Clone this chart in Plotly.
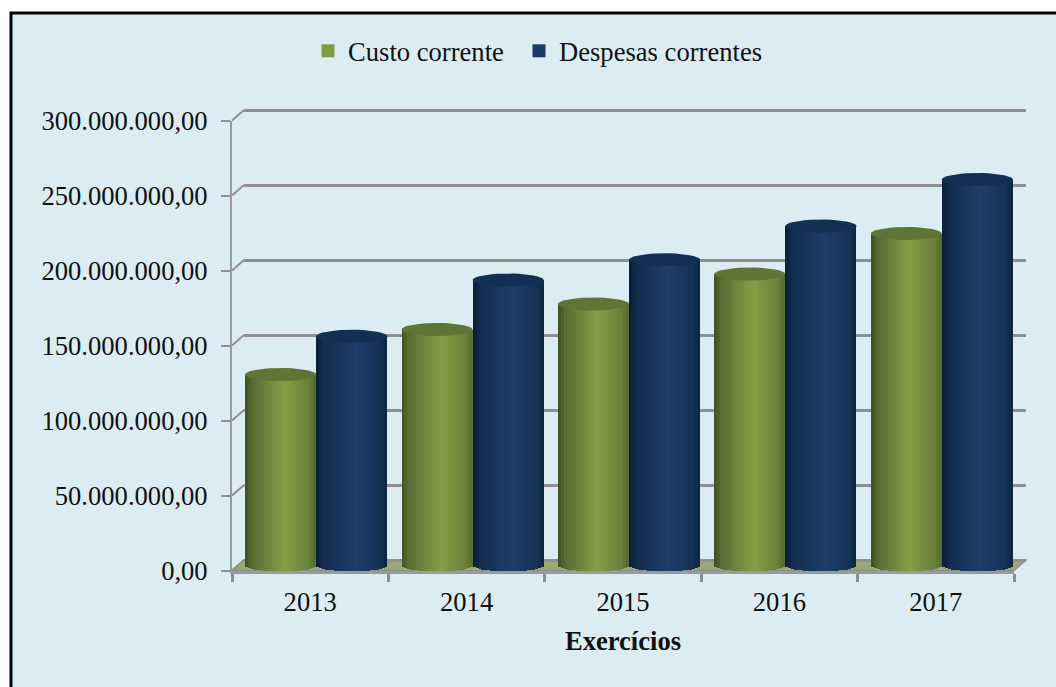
import math
import plotly.graph_objects as go

# ---- data ----
years = ["2013", "2014", "2015", "2016", "2017"]
custo_corrente = [127e6, 157e6, 174e6, 194e6, 221e6]
despesas_correntes = [152.5e6, 190e6, 203.5e6, 226e6, 257e6]
y_ticks = [0, 50e6, 100e6, 150e6, 200e6, 250e6, 300e6]

# ---- geometry (window pixels) ----
W, H = 1056, 687
AX_L, AX_R, AX_B, AX_T = 232, 1014, 570.5, 120.5   # front axes
BACK_DX, BACK_DY = 12, 10.5                        # depth of the back wall
BAR_DX, BAR_DY = 6, 5.5                            # depth of the cylinders
PX_PER_VAL = (AX_B - AX_T) / 300e6
RY_PX = 6.5
BAR_W = 0.4545
STRIPS = 24
FONT = "Liberation Serif"
FS = 26.6
TXT = "#111111"
GRAY = "#8f8f8f"
GRID_PAD = 3 / PX_PER_VAL


def px(x):
    return x / W


def py(y):
    return 1 - y / H


def mix(stops, u):
    for (u0, c0), (u1, c1) in zip(stops, stops[1:]):
        if u <= u1:
            t = (u - u0) / (u1 - u0)
            rgb = [round(a + (b - a) * t) for a, b in zip(c0, c1)]
            return f"rgb({rgb[0]},{rgb[1]},{rgb[2]})"
    return f"rgb({c1[0]},{c1[1]},{c1[2]})"


GREEN = [(0, (62, 78, 36)), (0.1, (88, 108, 50)), (0.55, (131, 160, 70)),
         (0.9, (104, 128, 56)), (1, (84, 104, 46))]
BLUE = [(0, (10, 30, 54)), (0.12, (18, 46, 80)), (0.55, (29, 62, 104)),
        (0.9, (20, 50, 86)), (1, (12, 36, 62))]

series = [
    ("Custo corrente", custo_corrente, GREEN, "#7f9a41", "rgb(96,116,54)", -BAR_W, 166),
    ("Despesas correntes", despesas_correntes, BLUE, "#1a3a65", "rgb(19,48,84)", 0, 220),
]

fig = go.Figure()

# legend entries + main axes
for name, vals, stops, swatch, top, off, lw in series:
    fig.add_trace(go.Scatter(
        x=years, y=[None] * len(years), name=name, mode="markers",
        marker=dict(symbol="square", size=13, color=swatch), legendwidth=lw,
        xaxis="x", yaxis="y", hoverinfo="skip"))

# back wall axes (only its gridlines are shown)
fig.add_trace(go.Scatter(x=[0], y=[None], xaxis="x2", yaxis="y2", showlegend=False,
                         hoverinfo="skip"))

# cylinders: strips of bars with the value as their top
ry_val = RY_PX / PX_PER_VAL
strip_w = BAR_W / STRIPS
idx = list(range(len(years)))
for name, vals, stops, swatch, top, off, lw in series:
    for s in range(STRIPS):
        u = (s + 0.5) / STRIPS
        base = -ry_val * math.sqrt(max(0, 1 - (2 * u - 1) ** 2))
        fig.add_trace(go.Bar(
            x=idx, y=[v - base for v in vals], base=[base] * len(vals),
            offset=off + s * strip_w,
            width=strip_w + (0.004 if s < STRIPS - 1 else 0),
            marker=dict(color=mix(stops, u), line=dict(width=0)),
            xaxis="x3", yaxis="y3", showlegend=False, hoverinfo="skip"))
    # top ellipse of each cylinder
    ex, ey = [], []
    for i, v in zip(idx, vals):
        cx = i + off + BAR_W / 2
        for k in range(41):
            t = 2 * math.pi * k / 40
            ex.append(cx + BAR_W / 2 * math.cos(t))
            ey.append(v + ry_val * math.sin(t))
        ex.append(None)
        ey.append(None)
    fig.add_trace(go.Scatter(
        x=ex, y=ey, mode="lines", fill="toself", fillcolor=top,
        line=dict(width=0, color=top), xaxis="x3", yaxis="y3",
        showlegend=False, hoverinfo="skip"))

# ---- decoration shapes ----
shapes = [
    # chart area with its black frame
    dict(type="rect", xref="paper", yref="paper", layer="below",
         x0=px(11), x1=px(W + 20), y0=py(13), y1=py(H + 20),
         fillcolor="#dbedf3", line=dict(color="#000000", width=3)),
    # floor
    dict(type="path", xref="paper", yref="paper", layer="below",
         path=(f"M {px(AX_L)} {py(AX_B)} L {px(AX_L + BACK_DX)} {py(AX_B - BACK_DY)} "
               f"L {px(AX_R + BACK_DX)} {py(AX_B - BACK_DY)} L {px(AX_R)} {py(AX_B)} Z"),
         fillcolor="#9ba878", line=dict(color=GRAY, width=1.5)),
]
for v in y_ticks:
    y_front = AX_B - v * PX_PER_VAL
    shapes.append(dict(type="line", xref="paper", yref="paper", layer="below",
                       x0=px(AX_L), x1=px(AX_L + BACK_DX),
                       y0=py(y_front), y1=py(y_front - BACK_DY),
                       line=dict(color=GRAY, width=2)))

fig.update_layout(
    width=W, height=H, autosize=False,
    margin=dict(l=0, r=0, t=0, b=0, autoexpand=False),
    paper_bgcolor="#ffffff", plot_bgcolor="rgba(0,0,0,0)",
    barmode="overlay", bargap=0, separators=",.",
    font=dict(family=FONT, size=FS, color=TXT),
    shapes=shapes,
    legend=dict(orientation="h", x=px(308), y=py(27), xanchor="left", yanchor="top",
                bgcolor="rgba(0,0,0,0)", font=dict(family=FONT, size=FS, color=TXT),
                itemclick=False, itemdoubleclick=False),
    xaxis=dict(domain=[px(AX_L), px(AX_R)], type="category", categoryorder="array",
               categoryarray=years, range=[-0.5, 4.5], anchor="y", tickson="boundaries",
               ticks="outside", ticklen=8, tickwidth=3, tickcolor=GRAY,
               showline=True, linecolor="#9a9a9a", linewidth=3, showgrid=False,
               zeroline=False, ticklabelstandoff=6,
               title=dict(text="<b>Exercícios</b>", standoff=15,
                          font=dict(family=FONT, size=FS, color=TXT))),
    yaxis=dict(domain=[py(AX_B), py(AX_T)], range=[0, 300e6], anchor="x",
               tickvals=y_ticks, tickformat=",.2f", ticks="outside", ticklen=9,
               tickwidth=2, tickcolor=GRAY, showline=True, linecolor="#9a9a9a",
               linewidth=2, showgrid=False, zeroline=False, ticklabelstandoff=8),
    xaxis2=dict(domain=[px(AX_L + BACK_DX), px(AX_R + BACK_DX)], range=[0, 1], anchor="y2",
                visible=False),
    yaxis2=dict(domain=[py(AX_B - BACK_DY + 3), py(AX_T - BACK_DY - 3)],
                range=[-GRID_PAD, 300e6 + GRID_PAD],
                anchor="x2", tickvals=y_ticks, showticklabels=False, ticks="",
                showgrid=True, gridcolor=GRAY, gridwidth=2.5, zeroline=False, showline=False),
    xaxis3=dict(domain=[px(AX_L + BAR_DX), px(AX_R + BAR_DX)], range=[-0.5, 4.5],
                anchor="y3", visible=False),
    yaxis3=dict(domain=[py(AX_B - BAR_DY + 15), py(AX_T - BAR_DY - 15)],
                range=[-15 / PX_PER_VAL, 300e6 + 15 / PX_PER_VAL], anchor="x3", visible=False),
)

fig.write_html("out.html", config=dict(displayModeBar=False),
               post_script="document.body.style.margin='0';")
